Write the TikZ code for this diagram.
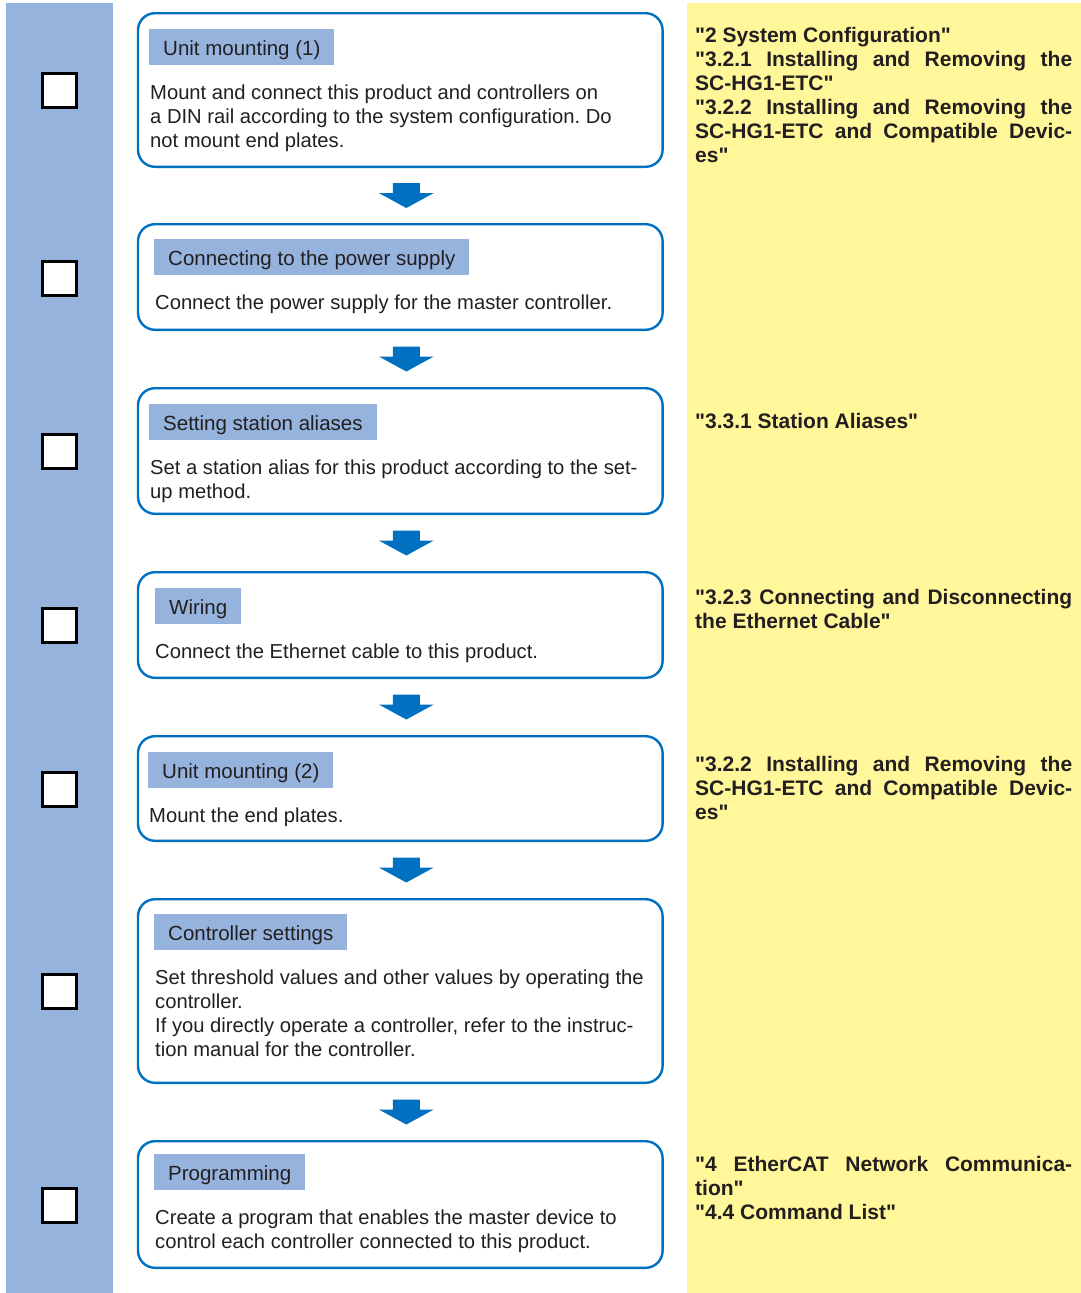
\documentclass[tikz,border=0pt]{standalone}
\usepackage{fontspec}
\setmainfont{Liberation Sans}
\newfontfamily\flowfont{Liberation Sans}
\usetikzlibrary{calc}
\frenchspacing
\definecolor{stripblue}{HTML}{95B3DD}
\definecolor{noteyellow}{HTML}{FFF799}
\definecolor{frameblue}{HTML}{0070C0}
\definecolor{inkgray}{HTML}{231F20}
\tikzset{
  stepbox/.style={draw=frameblue, line width=2.4pt, rounded corners=17pt, minimum width=524.6pt, inner sep=0pt, fill=white},
  tabbox/.style={fill=stripblue, anchor=north west, minimum height=36pt, inner xsep=14pt, inner ysep=0pt, text height=17pt, text depth=0pt, font=\flowfont\fontsize{20.5}{24}\selectfont, text=inkgray},
  bodytext/.style={anchor=north west, inner sep=0pt, align=left, font=\flowfont\fontsize{20.2}{24}\selectfont, text=inkgray},
  notetext/.style={anchor=north west, inner sep=0pt, text width=377pt, align=justify, font=\flowfont\bfseries\fontsize{21}{24}\selectfont, text=inkgray},
  checkbox/.style={draw=black, line width=3pt, fill=white, minimum size=34pt, inner sep=0pt},
  flowarrow/.style={fill=frameblue},
}
% block arrow half way between two boxes
\newcommand{\stepdown}[2]{%
  \coordinate (m) at ($(#1.south)!0.5!(#2.north)+(6,0)$);
  \fill[flowarrow] (m) ++(-13.5,-12.5) -- ++(27,0) -- ++(0,10) -- ++(14,0)
    -- ++(-27.5,15) -- ++(-27.5,-15) -- ++(14,0) -- cycle;
}
\begin{document}
\begin{tikzpicture}[x=1pt, y=-1pt]
	\useasboundingbox (0,0) rectangle (1081,1293);
	\fill[stripblue] (6,3) rectangle (113,1293);
	\fill[noteyellow] (687,3) rectangle (1081,1293);
	% steps
	\node[stepbox, minimum height=153.6pt] (b1) at (400.3,90) {};
	\node[stepbox, minimum height=105.6pt] (b2) at (400.3,277) {};
	\node[stepbox, minimum height=125.6pt] (b3) at (400.3,451) {};
	\node[stepbox, minimum height=105.6pt] (b4) at (400.3,625) {};
	\node[stepbox, minimum height=104.6pt] (b5) at (400.3,788.5) {};
	\node[stepbox, minimum height=183.6pt] (b6) at (400.3,991) {};
	\node[stepbox, minimum height=126.6pt] (b7) at (400.3,1204.5) {};
	% check boxes
	\node[checkbox] (c1) at (59.5,90) {};
	\node[checkbox] (c2) at (59.5,278) {};
	\node[checkbox] (c3) at (59.5,451) {};
	\node[checkbox] (c4) at (59.5,625) {};
	\node[checkbox] (c5) at (59.5,789) {};
	\node[checkbox] (c6) at (59.5,991) {};
	\node[checkbox] (c7) at (59.5,1205) {};
	% titles
	\node[tabbox] (t1) at (149,29) {Unit mounting (1)};
	\node[tabbox] (t2) at (154,239) {Connecting to the power supply};
	\node[tabbox] (t3) at (149,404) {Setting station aliases};
	\node[tabbox] (t4) at (155,588) {Wiring};
	\node[tabbox] (t5) at (148,752) {Unit mounting (2)};
	\node[tabbox] (t6) at (154,914) {Controller settings};
	\node[tabbox] (t7) at (154,1154) {Programming};
	% texts
	\node[bodytext] (d1) at ($(t1.south west)+(1,19.5)$) {Mount and connect this product and controllers on\\a DIN rail according to the system configuration. Do\\not mount end plates.};
	\node[bodytext] (d2) at ($(t2.south west)+(1,19.5)$) {Connect the power supply for the master controller.};
	\node[bodytext] (d3) at ($(t3.south west)+(1,19.5)$) {Set a station alias for this product according to the set-\\up method.};
	\node[bodytext] (d4) at ($(t4.south west)+(0,19.5)$) {Connect the Ethernet cable to this product.};
	\node[bodytext] (d5) at ($(t5.south west)+(1,19.5)$) {Mount the end plates.};
	\node[bodytext] (d6) at ($(t6.south west)+(1,19.5)$) {Set threshold values and other values by operating the\\controller.\\If you directly operate a controller, refer to the instruc-\\tion manual for the controller.};
	\node[bodytext] (d7) at ($(t7.south west)+(1,19.5)$) {Create a program that enables the master device to\\control each controller connected to this product.};
	% arrows
	\stepdown{b1}{b2}
	\stepdown{b2}{b3}
	\stepdown{b3}{b4}
	\stepdown{b4}{b5}
	\stepdown{b5}{b6}
	\stepdown{b6}{b7}
	% references
	\node[notetext] (n1) at (695,27.5) {"2 System Configuration"\\"3.2.1 Installing and Removing the\linebreak SC-HG1-ETC"\\"3.2.2 Installing and Removing the\linebreak SC-HG1-ETC and Compatible Devic-\linebreak es"};
	\node[notetext] (n3) at (695,413.5) {"3.3.1 Station Aliases"};
	\node[notetext] (n4) at (695,589.5) {"3.2.3 Connecting and Disconnecting\linebreak the Ethernet Cable"};
	\node[notetext] (n5) at (695,756.5) {"3.2.2 Installing and Removing the\linebreak SC-HG1-ETC and Compatible Devic-\linebreak es"};
	\node[notetext] (n7) at (695,1156.5) {"4 EtherCAT Network Communica-\linebreak tion"\\"4.4 Command List"};
\end{tikzpicture}
\end{document}
